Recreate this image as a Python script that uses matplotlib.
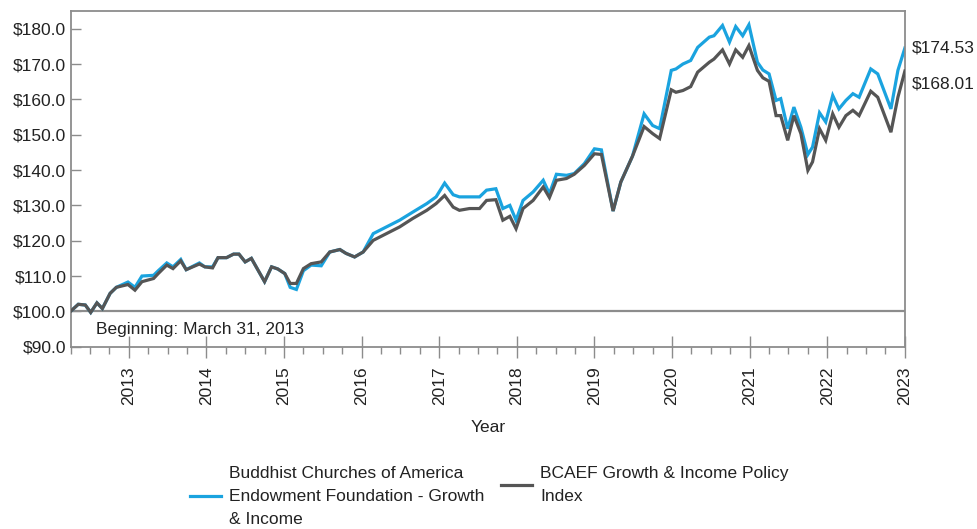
import matplotlib
matplotlib.use("Agg")
import matplotlib.pyplot as plt
from matplotlib.lines import Line2D

plt.rcParams['font.family'] = ['Liberation Sans', 'DejaVu Sans']

# decimal-year positions (axis labels: 2013 ... 2023)
dates = [2012.25, 2012.35, 2012.44, 2012.51, 2012.59, 2012.66, 2012.76, 2012.84, 2012.99, 2013.08,
         2013.17, 2013.32, 2013.38, 2013.49, 2013.57, 2013.67, 2013.74, 2013.91, 2013.98, 2014.08,
         2014.15, 2014.26, 2014.35, 2014.42, 2014.50, 2014.58, 2014.67, 2014.75, 2014.84, 2014.92,
         2015.01, 2015.08, 2015.16, 2015.25, 2015.35, 2015.48, 2015.59, 2015.72, 2015.80, 2015.91,
         2016.02, 2016.15, 2016.32, 2016.49, 2016.66, 2016.84, 2016.96, 2017.07, 2017.18, 2017.26,
         2017.39, 2017.52, 2017.61, 2017.73, 2017.82, 2017.91, 2017.99, 2018.08, 2018.21, 2018.34,
         2018.42, 2018.51, 2018.64, 2018.74, 2018.87, 2019.00, 2019.09, 2019.24, 2019.34, 2019.49,
         2019.64, 2019.75, 2019.84, 2019.99, 2020.05, 2020.14, 2020.24, 2020.33, 2020.48, 2020.54,
         2020.65, 2020.74, 2020.82, 2020.91, 2020.99, 2021.10, 2021.17, 2021.25, 2021.34, 2021.40,
         2021.49, 2021.57, 2021.66, 2021.75, 2021.81, 2021.90, 2021.98, 2022.07, 2022.15, 2022.24,
         2022.33, 2022.41, 2022.56, 2022.65, 2022.82, 2022.91, 2023.00]

fund = [100.0, 102.0, 101.8, 99.7, 102.4, 100.8, 105.1, 106.8, 108.3, 106.8,
        110.0, 110.2, 111.5, 113.7, 112.6, 114.7, 111.8, 113.7, 112.6, 112.6,
        115.2, 115.2, 116.2, 116.2, 114.0, 115.0, 111.5, 108.4, 112.6, 112.0,
        110.7, 106.8, 106.2, 111.5, 113.1, 112.9, 116.8, 117.5, 116.4, 115.4,
        116.8, 122.0, 123.9, 125.8, 128.1, 130.5, 132.4, 136.3, 133.0, 132.4,
        132.4, 132.4, 134.3, 134.7, 129.1, 130.0, 125.8, 131.4, 133.8, 137.1,
        133.3, 138.8, 138.5, 139.0, 141.8, 146.0, 145.7, 128.4, 136.6, 143.9,
        155.9, 152.6, 151.7, 168.2, 168.6, 170.0, 171.0, 174.7, 177.6, 178.0,
        180.9, 176.2, 180.6, 178.0, 181.1, 170.5, 168.3, 167.2, 159.7, 160.2,
        151.7, 157.8, 152.1, 144.4, 146.5, 156.2, 153.6, 161.1, 157.3, 159.7,
        161.6, 160.6, 168.6, 167.2, 157.3, 168.2, 174.53]

index = [100.0, 102.0, 101.8, 99.7, 102.4, 100.8, 105.1, 106.8, 107.6, 106.0,
         108.4, 109.3, 110.7, 113.1, 112.1, 114.3, 111.8, 113.4, 112.6, 112.3,
         115.2, 115.2, 116.2, 116.2, 114.0, 115.0, 111.5, 108.4, 112.6, 112.0,
         110.7, 107.9, 107.9, 112.1, 113.5, 114.0, 116.8, 117.5, 116.4, 115.4,
         116.8, 120.1, 122.0, 123.9, 126.3, 128.6, 130.5, 132.8, 129.5, 128.6,
         129.1, 129.1, 131.4, 131.6, 125.8, 126.9, 123.4, 129.1, 131.4, 135.2,
         132.2, 137.1, 137.6, 138.8, 141.3, 144.6, 144.4, 128.4, 136.6, 143.9,
         152.3, 150.3, 148.9, 162.7, 162.0, 162.5, 163.6, 167.7, 170.5, 171.4,
         174.0, 170.0, 174.0, 171.9, 175.2, 168.2, 166.1, 165.1, 155.4, 155.4,
         148.4, 155.4, 150.3, 139.9, 142.3, 151.7, 148.4, 155.9, 152.1, 155.4,
         156.9, 155.4, 162.3, 160.6, 150.7, 160.6, 168.01]

year_labels = ['2013', '2014', '2015', '2016', '2017', '2018', '2019', '2020', '2021', '2022', '2023']
y_ticks = [90, 100, 110, 120, 130, 140, 150, 160, 170, 180]

fund_name = 'Buddhist Churches of America\nEndowment Foundation - Growth\n& Income'
index_name = 'BCAEF Growth & Income Policy\nIndex'
note = 'Beginning: March 31, 2013'

BLUE = '#1aa3df'
GRAY = '#555555'
FRAME = '#8c8c8c'
TXT = '#222222'
FS = 12.5

fig = plt.figure(figsize=(9.77, 5.29), dpi=100)
ax = fig.add_axes([0.0722, 0.3446, 0.854, 0.6346])

ax.axhline(100, color=FRAME, lw=1.6, zorder=1)
ax.plot(dates, index, color=GRAY, lw=2.3, zorder=3, solid_joinstyle='miter')
ax.plot(dates, fund, color=BLUE, lw=2.3, zorder=2, solid_joinstyle='miter')

ax.set_xlim(dates[0], dates[-1])
ax.set_ylim(90, 185)

ax.set_yticks(y_ticks)
ax.set_yticklabels(['${:.1f}'.format(v) for v in y_ticks], fontsize=FS, color=TXT)
ax.tick_params(axis='y', direction='in', length=7, width=1, color=FRAME, pad=3)

major = list(range(2013, 2013 + len(year_labels)))
ax.set_xticks(major)
ax.set_xticklabels(year_labels, rotation=90, fontsize=FS, color=TXT)
ax.set_xticks([2012.25 + 0.25 * k for k in range(44) if (k % 4) != 3], minor=True)
ax.tick_params(axis='x', which='major', direction='inout', length=16, width=1, color=FRAME, pad=6)
ax.tick_params(axis='x', which='minor', direction='out', length=5, width=1, color=FRAME)

for s in ax.spines.values():
    s.set_color(FRAME)
    s.set_linewidth(1.3)

ax.set_xlabel('Year', fontsize=FS, color=TXT, labelpad=11)

ax.text(0.03, 95, note, transform=ax.get_yaxis_transform(), fontsize=FS,
        color=TXT, va='center', ha='left')

ax.annotate('${:.2f}'.format(fund[-1]), xy=(1.0, fund[-1]), xycoords=('axes fraction', 'data'),
            xytext=(5, 0), textcoords='offset points', fontsize=FS, color=TXT, va='center')
ax.annotate('${:.2f}'.format(index[-1]), xy=(1.0, index[-1]), xycoords=('axes fraction', 'data'),
            xytext=(5, -9), textcoords='offset points', fontsize=FS, color=TXT, va='center')

for color, name, xa in [(BLUE, fund_name, 0.1945), (GRAY, index_name, 0.5128)]:
    leg = fig.legend([Line2D([], [], color=color, lw=2.3)], [name], loc='upper left',
                     bbox_to_anchor=(xa, 0.12), frameon=False, fontsize=FS,
                     handlelength=1.8, handletextpad=0.45, borderpad=0, borderaxespad=0)
    for t in leg.get_texts():
        t.set_linespacing(1.7)
        t.set_color(TXT)

fig.savefig('out.png', dpi=100)
